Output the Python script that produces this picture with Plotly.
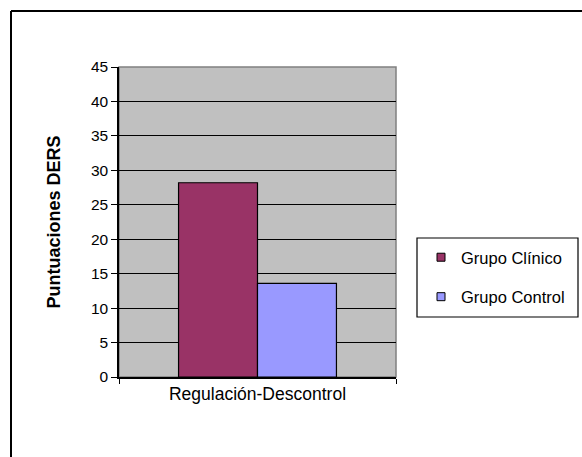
import plotly.graph_objects as go

# Scores on the DERS "Regulación-Descontrol" subscale
categories = ["Regulación-Descontrol"]
series_names = ["Grupo Clínico", "Grupo Control"]
series_values = [[28.2], [13.6]]
series_colors = ["#993366", "#9999FF"]
y_ticks = [0, 5, 10, 15, 20, 25, 30, 35, 40, 45]

W, H = 582, 457
L, R, T, B = 119, 186, 67, 80
pw, ph = W - L - R, H - T - B


def px_x(p):
    return (p - L) / pw


def px_y(p):
    return (H - B - p) / ph


FONT = "Liberation Sans, Arial, sans-serif"

fig = go.Figure()
for i, (name, vals, col) in enumerate(zip(series_names, series_values, series_colors)):
    fig.add_trace(go.Bar(
        x=categories, y=vals, name=name,
        marker=dict(color=col, line=dict(color="black", width=1.2)),
        showlegend=False,
    ))
    # small square legend key
    fig.add_trace(go.Scatter(
        x=[None], y=[None], mode="markers", name=name,
        legendgroup=f"g{i}",
        marker=dict(symbol="square", size=8, color=col,
                    line=dict(color="black", width=1)),
    ))

fig.update_layout(
    width=W, height=H,
    margin=dict(l=L, r=R, t=T, b=B, autoexpand=False),
    paper_bgcolor="white",
    plot_bgcolor="#C0C0C0",
    font=dict(family=FONT, size=15, color="black"),
    barmode="group", bargap=0.43, bargroupgap=0,
    showlegend=True,
    legend=dict(
        x=px_x(421), y=px_y(240), xanchor="left", yanchor="top",
        bgcolor="rgba(0,0,0,0)", borderwidth=0,
        font=dict(family=FONT, size=16.5),
        tracegroupgap=15, itemwidth=30,
    ),
    xaxis=dict(
        showline=True, linecolor="black", linewidth=1.5,
        ticks="outside", tickson="boundaries", ticklen=5, tickcolor="black",
        tickfont=dict(size=17.5), showgrid=False, mirror=False,
    ),
    yaxis=dict(
        range=[0, 45], tickvals=y_ticks, ticks="outside", ticklen=6,
        tickcolor="black", showline=True, linecolor="black", linewidth=1.5,
        showgrid=True, gridcolor="black", gridwidth=1.2,
        tickfont=dict(size=15.5), zeroline=False,
        title=dict(text="<b>Puntuaciones DERS</b>", font=dict(size=18), standoff=26),
    ),
    shapes=[
        # grey frame around the plotting area
        dict(type="rect", xref="paper", yref="paper", x0=0, x1=1, y0=0, y1=1,
             line=dict(color="#808080", width=1.5), layer="below"),
        # legend frame
        dict(type="rect", xref="paper", yref="paper",
             x0=px_x(417), x1=px_x(578), y0=px_y(317), y1=px_y(238),
             line=dict(color="black", width=1.2), fillcolor="white", layer="below"),
        # outer chart frame (left and top edges)
        dict(type="line", xref="paper", yref="paper",
             x0=px_x(11), x1=px_x(11), y0=px_y(700), y1=px_y(11),
             line=dict(color="black", width=2)),
        dict(type="line", xref="paper", yref="paper",
             x0=px_x(11), x1=px_x(900), y0=px_y(11), y1=px_y(11),
             line=dict(color="black", width=2)),
    ],
)

fig.write_html("out.html")
